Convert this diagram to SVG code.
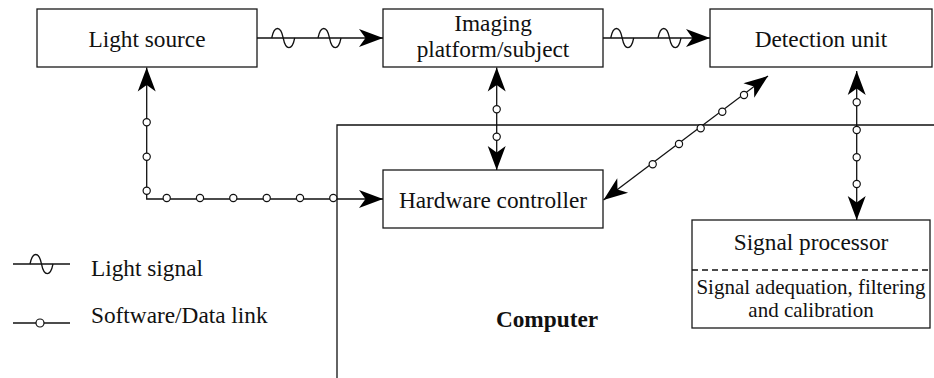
<svg xmlns="http://www.w3.org/2000/svg" width="934" height="378" viewBox="0 0 934 378">
  <style>
    .box { fill: #ffffff; stroke: #1a1a1a; stroke-width: 1.3; }
    .lbl { font-family: "Liberation Serif", "Times New Roman", serif; font-size: 23.3px; fill: #111; text-anchor: middle; }
    .small { font-size: 21px; }
    .leg { text-anchor: start; }
    .wire { fill: none; stroke: #111; stroke-width: 1.3; }
    .link { fill: none; stroke: #111; stroke-width: 1.3; marker-start: url(#arr); marker-end: url(#arr); }
    .light { fill: none; stroke: #111; stroke-width: 1.3; marker-end: url(#arr); }
    .wave { fill: none; stroke: #111; stroke-width: 1.3; }
    .dot { fill: #ffffff; stroke: #111; stroke-width: 1.2; }
  </style>
  <defs>
    <marker id="arr" viewBox="-25 -10 27 20" refX="0" refY="0" markerWidth="27" markerHeight="20" markerUnits="userSpaceOnUse" orient="auto-start-reverse">
      <path d="M0,0 L-24,-9 L-17.5,0 L-24,9 Z" fill="#000"/>
    </marker>
    <!-- one sine period, 23 px wide -->
    <path id="sine" class="wave" d="M0,0 C2.5,-12.7 9,-12.7 11.5,0 S20.5,12.7 23,0"/>
    <circle id="node" class="dot" r="3.6"/>
  </defs>

  <!-- computer frame -->
  <path class="wire" d="M337,378 V125 H934"/>
  <text class="lbl" x="547" y="327" font-weight="bold">Computer</text>

  <g id="light-source">
    <rect class="box" x="37" y="9" width="220" height="58"/>
    <text class="lbl" x="147" y="47">Light source</text>
  </g>
  <g id="imaging-platform">
    <rect class="box" x="383" y="9" width="220" height="58"/>
    <text class="lbl" x="493" y="31">Imaging</text>
    <text class="lbl" x="493" y="57">platform/subject</text>
  </g>
  <g id="detection-unit">
    <rect class="box" x="710" y="9" width="222" height="58"/>
    <text class="lbl" x="821" y="47">Detection unit</text>
  </g>
  <g id="hardware-controller">
    <rect class="box" x="383" y="170" width="220" height="58"/>
    <text class="lbl" x="493" y="208">Hardware controller</text>
  </g>
  <g id="signal-processor">
    <rect class="box" x="692" y="220" width="238" height="108"/>
    <line x1="692" y1="270" x2="930" y2="270" stroke="#111" stroke-width="1.6" stroke-dasharray="6,4"/>
    <text class="lbl" x="811" y="250">Signal processor</text>
    <text class="lbl small" x="811" y="294">Signal adequation, filtering</text>
    <text class="lbl small" x="811" y="317">and calibration</text>
  </g>

  <g id="connectors">
    <!-- light signals -->
    <line class="light" x1="257" y1="38" x2="383" y2="38"/>
    <use href="#sine" x="271.7" y="38"/>
    <use href="#sine" x="318" y="38"/>
    <line class="light" x1="603" y1="38" x2="710" y2="38"/>
    <use href="#sine" x="610.7" y="38"/>
    <use href="#sine" x="658" y="38"/>

    <!-- light source <-> hardware controller -->
    <path class="link" d="M146.7,67.5 V199 H383"/>
    <use href="#node" x="146.7" y="122.3"/>
    <use href="#node" x="146.7" y="156.7"/>
    <use href="#node" x="146.7" y="190.7"/>
    <use href="#node" x="166.7" y="198"/>
    <use href="#node" x="200" y="198"/>
    <use href="#node" x="233.3" y="198"/>
    <use href="#node" x="266.7" y="198"/>
    <use href="#node" x="300" y="198"/>
    <use href="#node" x="333.3" y="198"/>

    <!-- imaging platform <-> hardware controller -->
    <line class="link" x1="496.7" y1="67.5" x2="496.7" y2="170"/>
    <use href="#node" x="496.7" y="109.3"/>
    <use href="#node" x="496.7" y="136.7"/>

    <!-- detection unit <-> hardware controller -->
    <line class="link" x1="768" y1="76" x2="603.5" y2="200"/>
    <use href="#node" x="652.7" y="164.3"/>
    <use href="#node" x="679" y="144"/>
    <use href="#node" x="700.7" y="128.3"/>
    <use href="#node" x="722.3" y="111.7"/>
    <use href="#node" x="744" y="95"/>

    <!-- detection unit <-> signal processor -->
    <line class="link" x1="856.7" y1="71" x2="856.7" y2="220"/>
    <use href="#node" x="856.7" y="102.3"/>
    <use href="#node" x="856.7" y="130"/>
    <use href="#node" x="856.7" y="157.3"/>
    <use href="#node" x="856.7" y="184"/>
  </g>

  <!-- legend -->
  <g id="legend">
    <line class="wire" x1="13" y1="264" x2="70" y2="264"/>
    <use href="#sine" x="30" y="264"/>
    <text class="lbl leg" x="91" y="276">Light signal</text>
    <line class="wire" x1="13" y1="323" x2="70" y2="323"/>
    <circle class="dot" cx="40" cy="323" r="4"/>
    <text class="lbl leg" x="91" y="323">Software/Data link</text>
  </g>
</svg>
